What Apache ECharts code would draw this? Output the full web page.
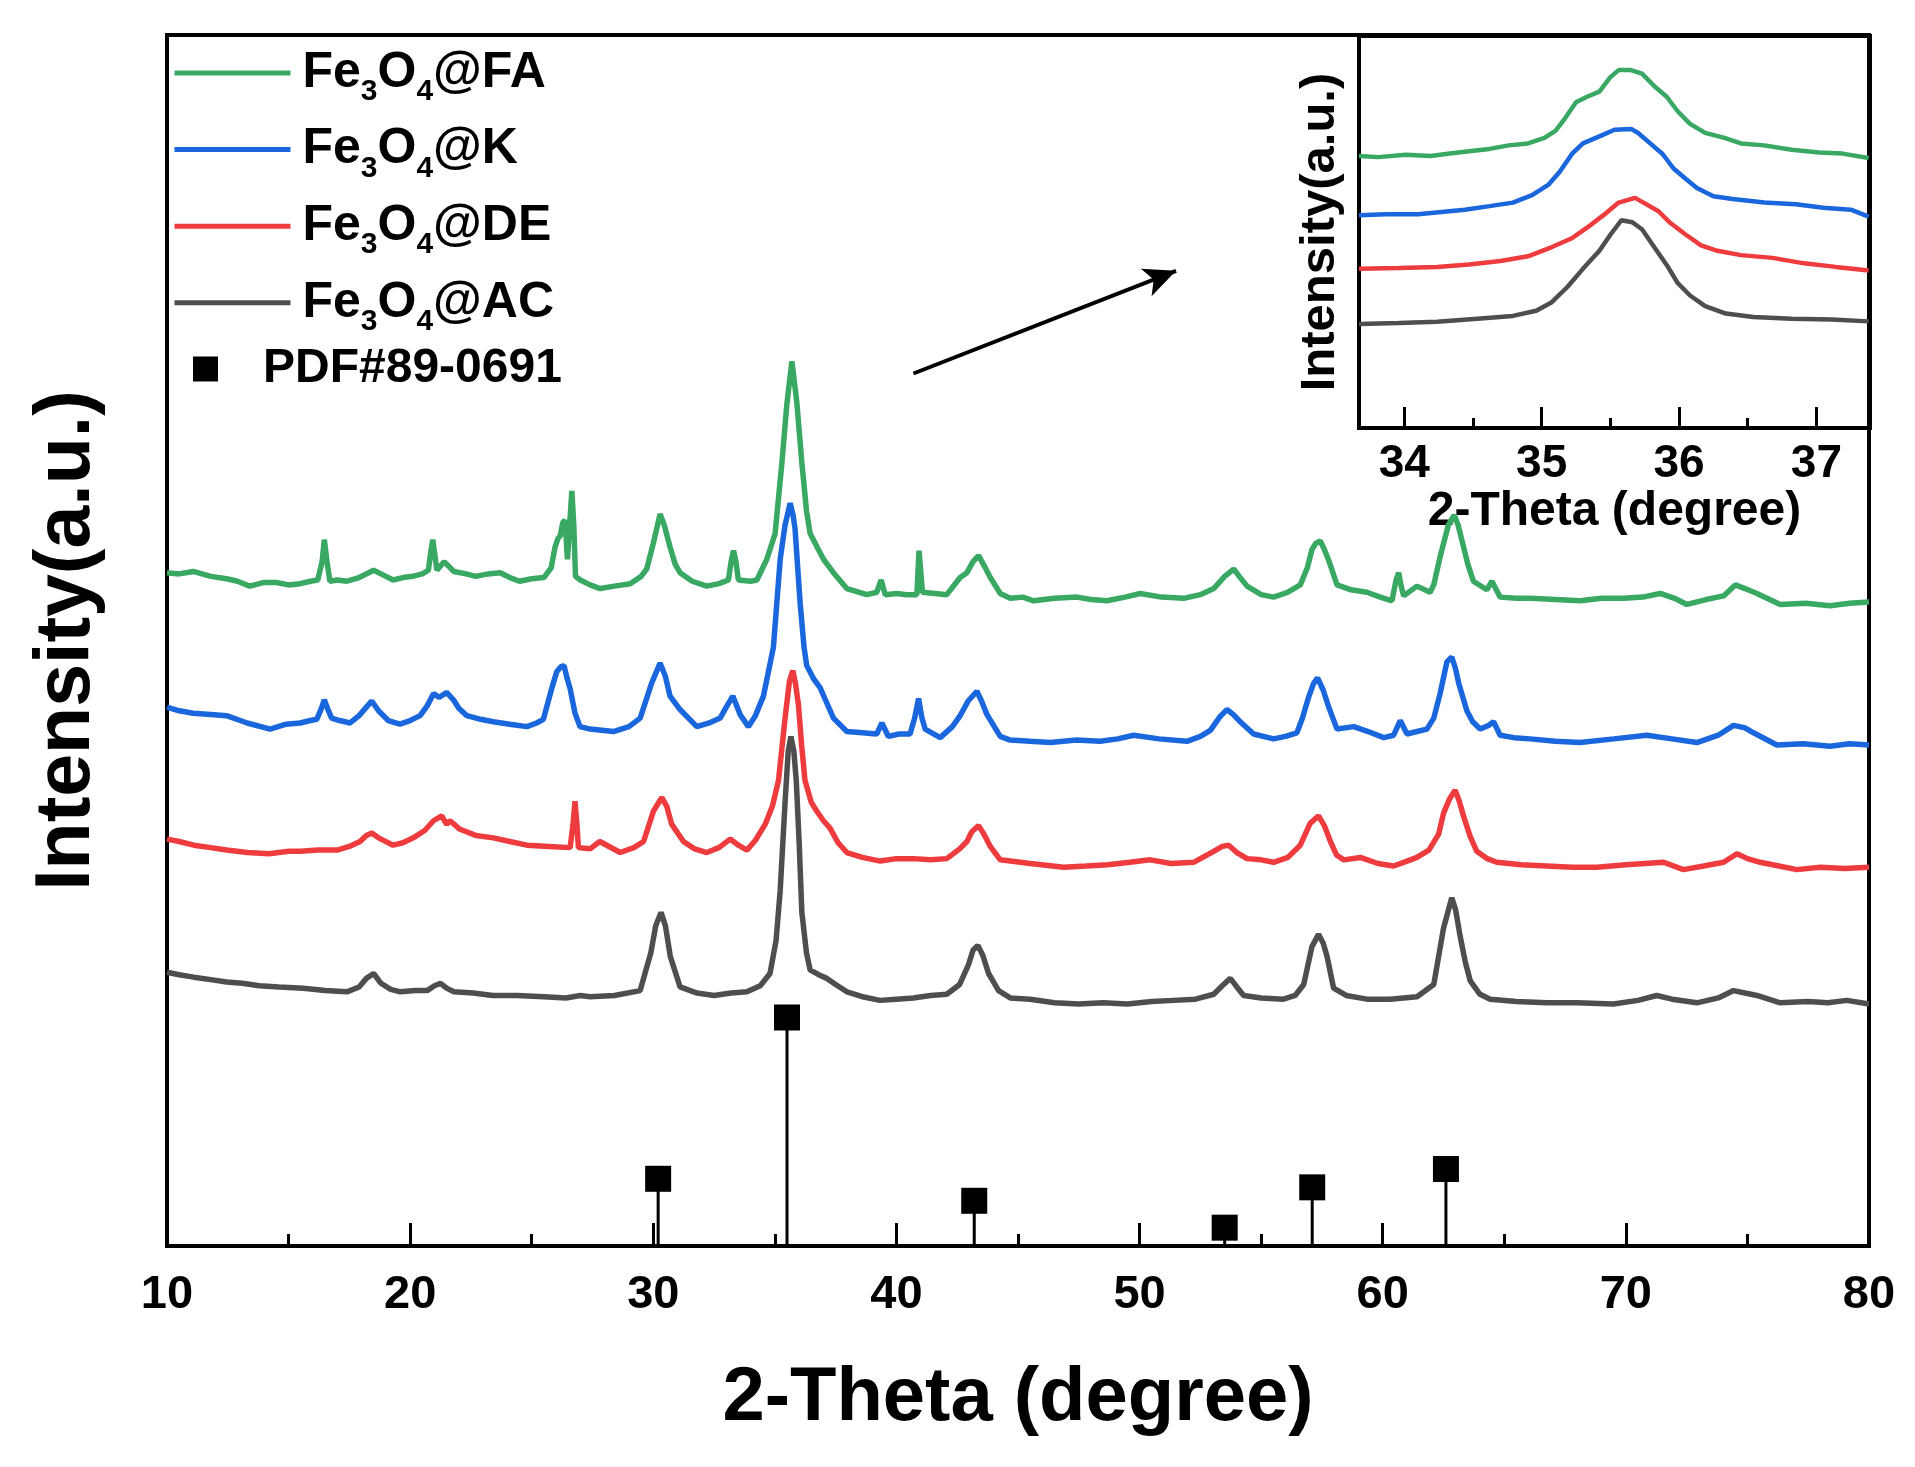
<!DOCTYPE html>
<html>
<head>
<meta charset="utf-8">
<script src="https://cdn.jsdelivr.net/npm/echarts@6/dist/echarts.min.js"></script>
<style>
html,body{margin:0;padding:0;background:#fff;}
#chart{width:1915px;height:1467px;}
</style>
</head>
<body>
<div id="chart"></div>
<script>
// ---------- DATA (2-Theta in degrees, intensity in arbitrary units, curves offset as in the figure) ----------
const seriesNames = ['Fe3O4@FA', 'Fe3O4@K', 'Fe3O4@DE', 'Fe3O4@AC'];
const pdfName = 'PDF#89-0691';

const xTicks = [10, 20, 30, 40, 50, 60, 70, 80];
const insetTicks = [34, 35, 36, 37];

const mainAC = [[10.0,224],[10.5,222],[11.1,220],[11.8,218],[12.45,216],[13.1,215],[13.8,213],[14.6,212],[15.6,211],[16.5,209],[17.4,208],[17.9,212],[18.2,219],[18.5,223],[18.8,215],[19.2,210],[19.6,208],[20.2,209],[20.7,209],[21.0,213],[21.25,215],[21.5,211],[21.8,208],[22.6,207],[23.4,205],[24.4,205],[25.5,204],[26.4,203],[27.0,205],[27.4,204],[28.4,205],[29.46,209],[29.9,240],[30.1,262],[30.32,273],[30.5,262],[30.7,237],[31.1,212],[31.8,207],[32.5,205],[33.2,207],[33.85,208],[34.4,213],[34.8,223],[35.05,250],[35.22,291],[35.42,363],[35.55,405],[35.66,417],[35.78,405],[35.88,381],[36.0,330],[36.11,273],[36.3,240],[36.45,226],[36.8,222],[37.14,219],[37.5,214],[37.96,208],[38.6,204],[39.33,201],[40.0,202],[40.7,203],[41.4,205],[42.07,206],[42.6,214],[42.96,230],[43.15,242],[43.35,246],[43.55,238],[43.79,223],[44.2,209],[44.68,203],[45.5,202],[46.5,199],[47.5,198],[48.5,199],[49.5,198],[50.5,200],[51.4,201],[52.3,202],[53.05,206],[53.4,213],[53.73,219],[54.0,212],[54.28,205],[55.0,203],[55.92,202],[56.4,205],[56.75,214],[57.09,245],[57.36,255],[57.55,248],[57.71,237],[57.98,211],[58.5,205],[59.35,202],[60.3,202],[61.41,204],[62.1,214],[62.5,260],[62.84,285],[63.0,275],[63.18,254],[63.4,232],[63.6,217],[64.0,206],[64.42,202],[65.5,200],[66.75,199],[68.0,199],[69.49,198],[70.5,201],[71.27,205],[71.9,202],[72.92,199],[73.8,203],[74.43,209],[74.9,207],[75.39,205],[76.35,199],[77.5,200],[78.3,199],[79.09,201],[80.0,198]];

const mainDE = [[10.0,333],[10.5,331],[11.1,328],[11.8,326],[12.45,324],[13.3,322],[14.2,321],[15.0,323],[15.5,323],[16.2,324],[17.0,324],[17.5,327],[17.94,331],[18.2,336],[18.42,338],[18.7,334],[19.3,328],[19.7,330],[20.13,334],[20.6,340],[20.96,348],[21.3,352],[21.5,345],[21.64,348],[22.05,341],[22.7,336],[23.42,334],[24.1,331],[24.8,328],[25.7,327],[26.58,326],[26.7,345],[26.78,364],[26.86,345],[26.92,326],[27.4,325],[27.8,331],[28.64,322],[29.2,326],[29.6,331],[30.01,356],[30.35,367],[30.55,360],[30.76,345],[31.24,331],[31.7,325],[32.2,322],[32.7,326],[33.16,333],[33.5,328],[33.85,324],[34.2,332],[34.6,345],[34.9,360],[35.15,381],[35.42,432],[35.6,462],[35.74,471],[35.85,460],[35.97,443],[36.1,410],[36.24,381],[36.5,363],[36.72,356],[37.0,348],[37.27,342],[37.6,330],[37.96,322],[38.6,318],[39.33,315],[40.0,317],[40.7,317],[41.4,316],[42.07,317],[42.6,325],[42.9,331],[43.1,339],[43.38,344],[43.6,337],[43.86,327],[44.27,316],[44.68,315],[45.5,313],[46.88,310],[47.8,311],[48.7,312],[49.6,314],[50.44,316],[51.3,313],[52.22,314],[53.05,323],[53.4,327],[53.66,328],[54.0,322],[54.42,317],[55.0,316],[55.51,314],[56.1,318],[56.61,328],[57.02,346],[57.36,352],[57.6,344],[57.85,331],[58.1,320],[58.4,316],[59.08,318],[59.8,313],[60.45,311],[61.0,315],[61.41,318],[61.9,324],[62.3,337],[62.5,354],[62.75,366],[62.98,373],[63.15,364],[63.32,352],[63.6,335],[63.87,323],[64.3,317],[64.69,314],[65.7,312],[66.75,311],[67.8,310],[68.81,310],[70.0,312],[71.55,314],[72.37,308],[73.2,311],[74.02,314],[74.57,321],[75.0,317],[75.52,314],[76.3,311],[77.03,308],[78.0,310],[79.0,309],[80.0,310]];

const mainK = [[10.0,441],[10.5,438],[11.08,436],[11.8,435],[12.45,434],[13.3,428],[14.24,423],[14.9,427],[15.47,428],[15.9,430],[16.16,431],[16.35,440],[16.47,447],[16.6,440],[16.77,432],[17.1,430],[17.53,428],[17.9,434],[18.2,441],[18.42,446],[18.7,438],[19.1,430],[19.58,427],[20.0,430],[20.41,434],[20.7,442],[20.96,452],[21.2,449],[21.5,453],[21.78,447],[22.0,440],[22.33,434],[22.9,431],[23.42,429],[24.1,427],[24.8,425],[25.2,428],[25.48,431],[25.82,456],[26.03,470],[26.2,474],[26.33,475],[26.45,465],[26.58,456],[26.78,436],[26.99,425],[27.4,423],[28.36,421],[29.0,425],[29.46,432],[29.94,461],[30.28,477],[30.5,466],[30.69,450],[31.1,439],[31.79,425],[32.3,428],[32.75,432],[33.0,441],[33.27,450],[33.57,435],[33.91,425],[34.2,434],[34.53,450],[34.94,490],[35.22,562],[35.42,590],[35.63,608],[35.75,598],[35.83,587],[36.04,526],[36.2,490],[36.31,475],[36.6,464],[36.86,457],[37.1,446],[37.41,432],[37.96,421],[38.6,420],[39.19,419],[39.4,428],[39.67,417],[40.1,419],[40.56,419],[40.75,432],[40.91,448],[41.05,432],[41.18,423],[41.8,416],[42.3,425],[42.62,434],[42.95,446],[43.31,454],[43.5,446],[43.72,435],[44.27,417],[44.68,414],[45.5,413],[46.33,412],[47.4,414],[48.38,413],[49.1,415],[49.76,418],[50.8,415],[51.95,413],[52.5,417],[52.91,422],[53.3,433],[53.59,439],[53.85,435],[54.14,429],[54.69,419],[55.51,415],[56.0,417],[56.47,420],[56.7,432],[56.95,449],[57.15,460],[57.32,465],[57.55,455],[57.78,441],[58.12,423],[58.81,425],[59.4,421],[60.04,416],[60.45,418],[60.72,430],[61.0,419],[61.41,421],[61.82,423],[62.1,432],[62.36,452],[62.64,478],[62.84,482],[63.0,472],[63.12,461],[63.46,438],[63.7,429],[64.01,423],[64.35,426],[64.56,429],[64.83,418],[65.4,416],[66.06,415],[67.1,413],[68.12,412],[69.5,415],[70.86,418],[71.9,415],[72.92,412],[73.8,418],[74.43,426],[74.9,424],[75.25,420],[76.21,410],[77.3,411],[78.4,409],[79.2,411],[80.0,410]];

const mainFA = [[10.0,551],[10.5,550],[11.08,552],[11.8,548],[12.45,546],[12.9,544],[13.4,540],[14.0,543],[14.5,543],[15.0,541],[15.47,542],[15.9,544],[16.2,545],[16.38,560],[16.47,578],[16.58,560],[16.7,544],[17.0,545],[17.4,544],[17.9,547],[18.5,553],[18.9,549],[19.3,545],[19.7,547],[20.1,548],[20.5,550],[20.75,553],[20.85,568],[20.93,578],[21.02,565],[21.1,553],[21.4,560],[21.8,552],[22.3,550],[22.7,548],[23.2,550],[23.7,551],[24.1,547],[24.5,544],[25.0,546],[25.5,547],[25.8,555],[25.96,572],[26.08,579],[26.17,581],[26.28,592],[26.37,594],[26.47,562],[26.56,590],[26.65,618],[26.73,590],[26.8,548],[27.0,545],[27.4,541],[27.81,538],[28.4,540],[29.05,542],[29.5,548],[29.73,554],[30.0,575],[30.28,599],[30.45,590],[30.69,572],[30.9,558],[31.1,551],[31.6,544],[32.2,540],[32.7,542],[33.09,545],[33.2,560],[33.3,569],[33.4,560],[33.5,545],[34.0,544],[34.26,545],[34.67,562],[35.01,583],[35.29,641],[35.49,688],[35.7,724],[35.9,691],[36.11,641],[36.3,602],[36.45,583],[37.0,562],[37.41,551],[37.96,538],[38.78,533],[39.19,535],[39.37,545],[39.54,533],[40.0,534],[40.43,533],[40.84,533],[40.93,569],[41.07,535],[41.6,534],[42.07,533],[42.62,547],[42.9,551],[43.15,560],[43.38,565],[43.6,557],[43.86,547],[44.27,534],[44.68,530],[45.2,531],[45.64,528],[46.5,530],[47.42,531],[48.0,529],[48.66,528],[49.4,531],[50.03,534],[50.9,531],[51.81,530],[52.5,533],[53.05,538],[53.5,548],[53.87,554],[54.1,548],[54.42,540],[55.0,533],[55.51,531],[56.1,535],[56.61,541],[56.9,555],[57.09,570],[57.25,575],[57.43,577],[57.6,570],[57.78,561],[58.12,541],[58.7,537],[59.35,535],[59.9,531],[60.38,528],[60.55,545],[60.66,551],[60.76,540],[60.86,532],[61.41,540],[61.95,535],[62.1,541],[62.36,564],[62.7,590],[62.94,598],[63.1,590],[63.25,578],[63.5,558],[63.73,544],[64.28,537],[64.49,544],[64.83,531],[65.5,530],[66.06,530],[67.1,529],[68.12,528],[69.0,530],[69.9,530],[70.7,531],[71.41,534],[72.0,530],[72.51,525],[73.3,529],[74.02,532],[74.5,541],[74.9,538],[75.39,534],[76.35,525],[77.4,526],[78.4,524],[79.2,526],[80.0,527]];

const pdfAngles = [30.2, 35.5, 43.2, 53.5, 57.1, 62.6];
const pdfIntensity = [55, 187, 37, 15, 48, 63];

const insetFA = [[33.67,69.4],[33.81,69.1],[34.01,69.7],[34.19,69.4],[34.33,70.0],[34.47,70.6],[34.62,71.2],[34.76,72.1],[34.9,72.6],[35.02,74.0],[35.1,75.8],[35.17,79.0],[35.25,83.1],[35.33,84.5],[35.42,85.8],[35.5,89.5],[35.56,91.3],[35.65,91.3],[35.73,90.4],[35.82,87.2],[35.91,84.5],[35.99,80.8],[36.08,77.6],[36.19,75.3],[36.33,74.0],[36.45,72.6],[36.62,72.1],[36.82,71.0],[37.02,70.3],[37.19,70.0],[37.38,68.9]];
const insetK = [[33.67,54.3],[33.87,54.5],[34.1,54.5],[34.27,55.1],[34.44,55.7],[34.62,56.6],[34.79,57.5],[34.93,59.4],[35.05,62.1],[35.13,65.3],[35.22,69.9],[35.3,72.6],[35.42,74.4],[35.53,76.1],[35.65,76.3],[35.7,75.3],[35.79,72.6],[35.88,69.9],[35.96,66.2],[36.05,63.5],[36.13,61.2],[36.25,59.1],[36.39,58.4],[36.62,57.5],[36.85,57.1],[37.05,56.2],[37.25,55.7],[37.38,53.9]];
const insetDE = [[33.67,40.6],[33.96,40.8],[34.24,41.1],[34.47,41.7],[34.7,42.6],[34.9,43.8],[35.07,46.1],[35.22,48.4],[35.33,51.1],[35.45,54.3],[35.56,57.5],[35.68,58.7],[35.76,57.1],[35.85,55.3],[35.93,52.5],[36.05,49.3],[36.16,46.6],[36.28,45.2],[36.45,44.1],[36.68,43.4],[36.91,42.0],[37.14,41.1],[37.38,40.2]];
const insetAC = [[33.67,26.5],[33.96,26.8],[34.24,27.1],[34.53,27.9],[34.79,28.6],[34.96,29.9],[35.07,32.0],[35.19,36.1],[35.3,40.6],[35.42,45.2],[35.5,49.3],[35.58,53.0],[35.66,52.5],[35.73,50.7],[35.82,46.1],[35.91,41.6],[35.99,37.0],[36.08,33.8],[36.19,31.1],[36.34,29.2],[36.54,28.3],[36.82,27.9],[37.11,27.7],[37.38,27.2]];

// arrow annotation (data coordinates of main plot)
const arrowStart = [40.7, 714];
const arrowEnd = [51.5, 798];

// ---------- STYLE ----------
const colors = {'Fe3O4@FA':'#38a862','Fe3O4@K':'#1a66dd','Fe3O4@DE':'#ee3b3e','Fe3O4@AC':'#4e4e4e'};
const FONT = '"Liberation Sans", Arial, sans-serif';

// tick labels of the main axis use a condensed bold face when it is installed
const NARROW = (function () {
  const c = document.createElement('canvas').getContext('2d');
  c.font = 'bold 52px "Liberation Sans Narrow", monospace';
  const w1 = c.measureText('1080').width;
  c.font = 'bold 52px monospace';
  const w2 = c.measureText('1080').width;
  return Math.abs(w1 - w2) > 0.5 ? {family: '"Liberation Sans Narrow", ' + FONT, size: 52} : {family: FONT, size: 47};
})();

const mainData = {'Fe3O4@FA':mainFA,'Fe3O4@K':mainK,'Fe3O4@DE':mainDE,'Fe3O4@AC':mainAC};
const insetData = {'Fe3O4@FA':insetFA,'Fe3O4@K':insetK,'Fe3O4@DE':insetDE,'Fe3O4@AC':insetAC};

const pdfData = pdfAngles.map((a, i) => [a, pdfIntensity[i]]);

function formulaLabel(name) {
  return '{a|Fe}{b|3}{a|O}{b|4}{a|' + name.slice(5) + '}';
}

const series = [];
['Fe3O4@AC','Fe3O4@DE','Fe3O4@K','Fe3O4@FA'].forEach(function (n) {
  const s = {
    name: n, type: 'line', xAxisIndex: 0, yAxisIndex: 0,
    data: mainData[n], symbol: 'none', showSymbol: false,
    lineStyle: {color: colors[n], width: 5.5}, itemStyle: {color: colors[n]},
    z: 3
  };
  if (n === 'Fe3O4@AC') {
    s.markLine = {
      silent: true, symbol: ['none', 'arrow'], symbolSize: [22, 32],
      label: {show: false},
      lineStyle: {color: '#000', width: 4, type: 'solid'},
      data: [[{coord: arrowStart}, {coord: arrowEnd}]]
    };
  }
  series.push(s);
});
series.push({name: pdfName, type: 'bar', xAxisIndex: 0, yAxisIndex: 0, data: pdfData, barWidth: 3, itemStyle: {color: '#000'}, z: 2});
series.push({name: pdfName, type: 'scatter', xAxisIndex: 0, yAxisIndex: 0, data: pdfData, symbol: 'rect', symbolSize: 26, itemStyle: {color: '#000', opacity: 1}, z: 4});
['Fe3O4@AC','Fe3O4@DE','Fe3O4@K','Fe3O4@FA'].forEach(function (n) {
  series.push({
    name: n, type: 'line', xAxisIndex: 1, yAxisIndex: 1,
    data: insetData[n], symbol: 'none', showSymbol: false,
    lineStyle: {color: colors[n], width: 4.5}, itemStyle: {color: colors[n]}, z: 3
  });
});

const option = {
  backgroundColor: '#fff',
  animation: false,
  grid: [
    {left: 167, right: 46, top: 35, bottom: 221, show: true, borderColor: '#000', borderWidth: 4},
    {left: 1359, right: 45, top: 36, bottom: 1039, show: true, borderColor: '#000', borderWidth: 4}
  ],
  xAxis: [
    {
      type: 'value', gridIndex: 0, min: xTicks[0], max: xTicks[xTicks.length - 1], interval: 10,
      axisLine: {show: false},
      axisTick: {show: true, inside: true, length: 23, lineStyle: {color: '#000', width: 3}},
      minorTick: {show: true, splitNumber: 2, length: 12, lineStyle: {color: '#000', width: 3}},
      splitLine: {show: false}, minorSplitLine: {show: false},
      axisLabel: {show: true, margin: 26, fontSize: NARROW.size, fontWeight: 'bold', color: '#000', fontFamily: NARROW.family},
      name: '2-Theta (degree)', nameLocation: 'middle', nameGap: 115,
      nameTextStyle: {fontSize: 76, fontWeight: 'bold', color: '#000', fontFamily: FONT}
    },
    {
      type: 'value', gridIndex: 1, min: 33.67, max: 37.39,
      axisLine: {show: false},
      axisTick: {show: true, inside: true, length: 21, lineStyle: {color: '#000', width: 3}},
      splitLine: {show: false},
      axisLabel: {show: true, margin: 13, fontSize: 46, fontWeight: 'bold', color: '#000', fontFamily: FONT,
        showMinLabel: false, showMaxLabel: false,
        formatter: function (v) { return insetTicks.indexOf(v) >= 0 ? String(v) : ''; }},
      name: '2-Theta (degree)', nameLocation: 'middle', nameGap: 54,
      nameTextStyle: {fontSize: 48, fontWeight: 'bold', color: '#000', fontFamily: FONT}
    },
    {
      type: 'value', gridIndex: 1, min: 33.67, max: 37.39, splitNumber: 7, position: 'bottom',
      axisLine: {show: false},
      axisTick: {show: true, inside: true, length: 10, lineStyle: {color: '#000', width: 3}},
      splitLine: {show: false},
      axisLabel: {show: false}
    }
  ],
  yAxis: [
    {
      type: 'value', gridIndex: 0, min: 0, max: 991,
      axisLine: {show: false}, axisTick: {show: false}, axisLabel: {show: false}, splitLine: {show: false},
      name: 'Intensity(a.u.)', nameLocation: 'middle', nameGap: 61,
      nameTextStyle: {fontSize: 77, fontWeight: 'bold', color: '#000', fontFamily: FONT}
    },
    {
      type: 'value', gridIndex: 1, min: 0, max: 100,
      axisLine: {show: false}, axisTick: {show: false}, axisLabel: {show: false}, splitLine: {show: false},
      name: 'Intensity(a.u.)', nameLocation: 'middle', nameGap: 14,
      nameTextStyle: {fontSize: 49, fontWeight: 'bold', color: '#000', fontFamily: FONT}
    }
  ],
  legend: [
    {
      data: seriesNames, orient: 'vertical', left: 172, top: 39, padding: 0,
      itemWidth: 116, itemHeight: 20, itemGap: 8.6, selectedMode: false,
      itemStyle: {opacity: 0, borderWidth: 0},
      lineStyle: {width: 5, opacity: 1},
      formatter: formulaLabel,
      textStyle: {
        color: '#000', fontFamily: FONT, fontWeight: 'bold', padding: [0, 0, 0, 7],
        rich: {
          a: {fontSize: 50, fontWeight: 'bold', fontFamily: FONT, color: '#000', lineHeight: 56},
          b: {fontSize: 30, fontWeight: 'bold', fontFamily: FONT, color: '#000', lineHeight: 30, padding: [38, 0, 0, 0]}
        }
      }
    },
    {
      data: [pdfName], orient: 'vertical', left: 193, top: 345, padding: 0,
      itemWidth: 25, itemHeight: 25, icon: 'rect', selectedMode: false,
      formatter: function (n) { return '{p|' + n + '}'; },
      textStyle: {
        color: '#000', fontFamily: FONT, fontWeight: 'bold',
        rich: {p: {fontSize: 48, fontWeight: 'bold', fontFamily: FONT, color: '#000', lineHeight: 50, padding: [0, 0, 0, 40]}}
      }
    }
  ],
  series: series
};

const chart = echarts.init(document.getElementById('chart'), null, {renderer: 'canvas'});
chart.setOption(option);
</script>
</body>
</html>
